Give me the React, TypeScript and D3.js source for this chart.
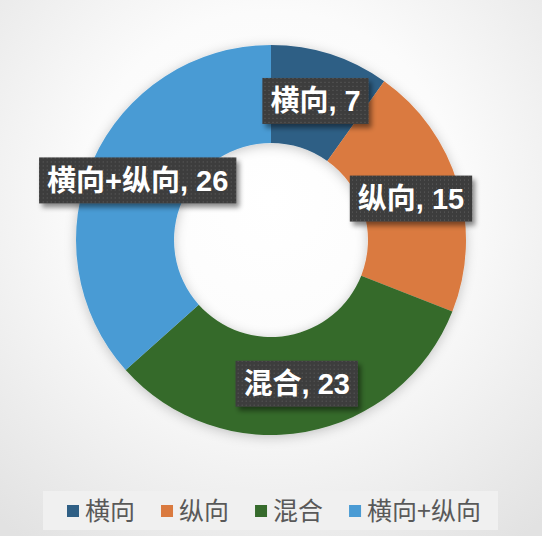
import React, { useEffect, useRef } from 'react';
import * as d3 from 'd3';

const categories = ['横向', '纵向', '混合', '横向+纵向'];
const values = [7, 15, 23, 26];
const colors = ['#2F5F85', '#DA7A3F', '#366B2C', '#4A9BD4'];

const W = 542;
const H = 536;

const App: React.FC = () => {
  const svgRef = useRef<SVGSVGElement>(null);

  useEffect(() => {
    if (!svgRef.current) return;
    const svg = d3.select(svgRef.current);
    svg.selectAll('*').remove();

    const defs = svg.append('defs');

    // background gradient
    const bg = defs.append('radialGradient')
      .attr('id', 'bg')
      .attr('gradientUnits', 'userSpaceOnUse')
      .attr('cx', 271).attr('cy', 200).attr('r', 420);
    bg.append('stop').attr('offset', '0%').attr('stop-color', '#ffffff');
    bg.append('stop').attr('offset', '45%').attr('stop-color', '#fbfbfb');
    bg.append('stop').attr('offset', '100%').attr('stop-color', '#e2e2e2');

    // soft shadow around the ring
    const ringShadow = defs.append('filter').attr('id', 'ringShadow')
      .attr('x', '-20%').attr('y', '-20%').attr('width', '140%').attr('height', '140%');
    ringShadow.append('feDropShadow')
      .attr('dx', 0).attr('dy', 2).attr('stdDeviation', 6)
      .attr('flood-color', '#000').attr('flood-opacity', 0.22);

    // label box shadow
    const boxShadow = defs.append('filter').attr('id', 'boxShadow')
      .attr('x', '-20%').attr('y', '-30%').attr('width', '140%').attr('height', '170%');
    boxShadow.append('feDropShadow')
      .attr('dx', 3).attr('dy', 4).attr('stdDeviation', 2.5)
      .attr('flood-color', '#000').attr('flood-opacity', 0.45);

    // dotted fill for label boxes
    const pat = defs.append('pattern')
      .attr('id', 'dots')
      .attr('patternUnits', 'userSpaceOnUse')
      .attr('width', 4).attr('height', 4);
    pat.append('rect').attr('width', 4).attr('height', 4).attr('fill', '#3e3e3e');
    pat.append('rect').attr('x', 1).attr('y', 1).attr('width', 1).attr('height', 1).attr('fill', '#5e5e5e');

    svg.append('rect').attr('width', W).attr('height', H).attr('fill', 'url(#bg)');

    const cx = 271;
    const cy = 240;
    const outerR = 195;
    const innerR = 97;

    const pie = d3.pie<number>().sort(null).value(d => d);
    const arcs = pie(values);
    const arc = d3.arc<d3.PieArcDatum<number>>().innerRadius(innerR).outerRadius(outerR);

    const g = svg.append('g').attr('transform', `translate(${cx},${cy})`);

    g.append('g')
      .attr('filter', 'url(#ringShadow)')
      .selectAll('path')
      .data(arcs)
      .enter()
      .append('path')
      .attr('d', arc)
      .attr('fill', (_, i) => colors[i]);

    // data labels
    const labelFont = '"Liberation Sans", "Noto Sans CJK SC", sans-serif';
    arcs.forEach((a, i) => {
      const [lx, ly] = arc.centroid(a);
      const lg = g.append('g').attr('transform', `translate(${lx},${ly})`);
      const rect = lg.append('rect').attr('fill', 'url(#dots)').attr('filter', 'url(#boxShadow)');
      const t = lg.append('text')
        .attr('text-anchor', 'middle')
        .attr('dy', '0.36em')
        .attr('fill', '#ffffff')
        .attr('font-family', labelFont)
        .attr('font-weight', 'bold')
        .attr('font-size', '29px')
        .text(`${categories[i]}, ${values[i]}`);
      const tw = (t.node() as SVGTextElement).getComputedTextLength();
      const bw = tw + 16;
      const bh = 46;
      rect.attr('x', -bw / 2).attr('y', -bh / 2).attr('width', bw).attr('height', bh);
    });

    // legend
    const legend = svg.append('g');
    const legendBg = legend.append('rect')
      .attr('x', 43).attr('y', 491).attr('width', 455).attr('height', 39)
      .attr('fill', '#f0f0f0');
    let x = 67;
    categories.forEach((c, i) => {
      legend.append('rect')
        .attr('x', x).attr('y', 505).attr('width', 12).attr('height', 12)
        .attr('fill', colors[i]);
      const t = legend.append('text')
        .attr('x', x + 18).attr('y', 511)
        .attr('dy', '0.36em')
        .attr('fill', '#595959')
        .attr('font-family', '"Noto Sans CJK SC", "Liberation Sans", sans-serif')
        .attr('font-size', '25px')
        .text(c);
      const tw = (t.node() as SVGTextElement).getComputedTextLength();
      x += 18 + tw + 26;
    });
    legendBg.lower();
  }, []);

  return (
    <svg
      ref={svgRef}
      width={W}
      height={H}
      style={{ position: 'absolute', left: 0, top: 0, display: 'block' }}
    />
  );
};

export default App;
